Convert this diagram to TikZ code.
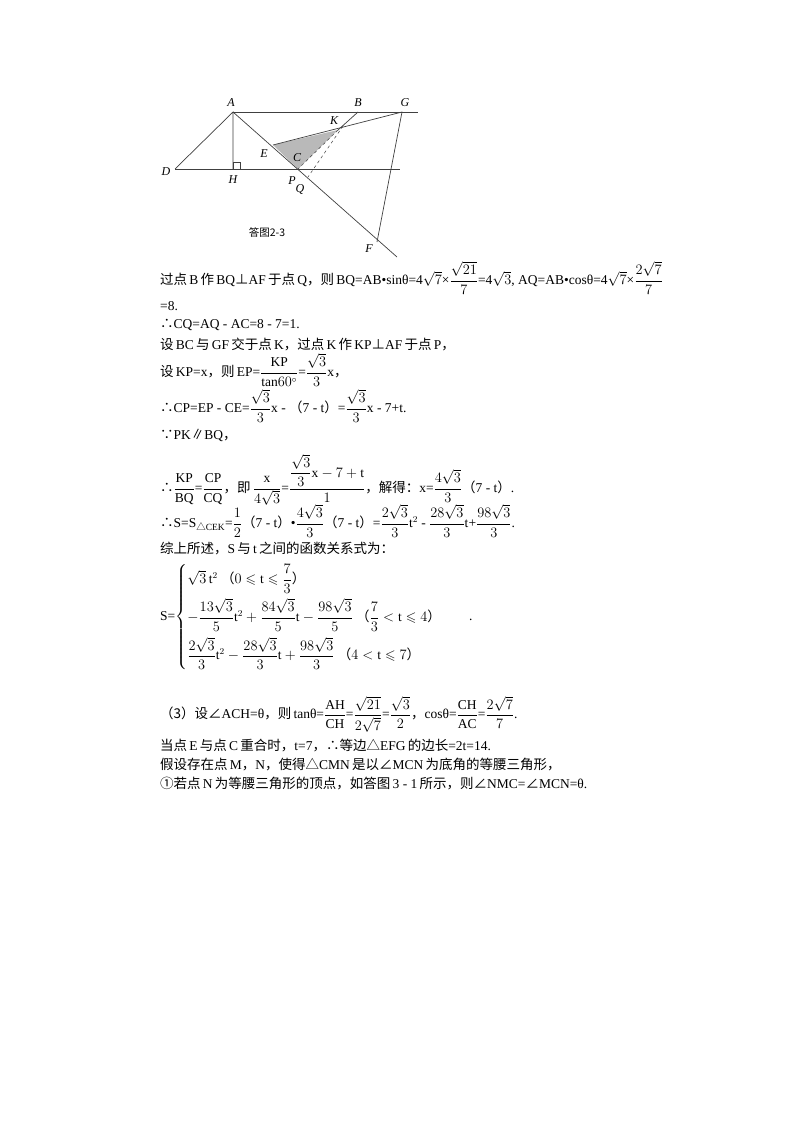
\documentclass[tikz,border=0pt]{standalone}
\usepackage{amsmath,amssymb}
\usepackage{fontspec}
\setmainfont{Liberation Serif}
\newfontfamily\cjk{Noto Sans CJK SC}
\newcommand{\zh}[1]{{\cjk #1}}
\newcommand{\ut}{\mathrm{t}}
\begin{document}
\begin{tikzpicture}[x=1pt,y=-1pt,
  lbl/.style={font=\itshape\fontsize{12}{13}\selectfont,inner sep=0pt},
  txt/.style={anchor=west,inner sep=0pt,font=\fontsize{13.5}{15}\selectfont},
  geo/.style={line width=0.7pt,draw=black!75}]
\useasboundingbox (0,0) rectangle (800,1132);
\fill[white] (0,0) rectangle (800,1132);
% geometry
\coordinate (A) at (233,112); \coordinate (B) at (358,112); \coordinate (G) at (402,112);
\coordinate (D) at (175,169); \coordinate (H) at (233,169); \coordinate (C) at (298,169);
\coordinate (E) at (273,145); \coordinate (K) at (338,130); \coordinate (F) at (377,242);
\coordinate (Q) at (308,177); \coordinate (AFend) at (397,257);
\coordinate (TR) at (418,112); \coordinate (BR) at (400,169);
\fill[gray!55] (E) -- (K) -- (C) -- cycle;
\draw[geo] (A) -- (TR);
\draw[geo] (D) -- (BR);
\draw[geo] (D) -- (A) -- (H);
\draw[geo] (A) -- (AFend);
\draw[geo] (E) -- (G) -- (F);
\draw[geo] (B) -- (K);
\draw[geo,dashed,line width=0.5pt] (K) -- (C);
\draw[geo,dashed,line width=0.5pt] (343,126) -- (Q);
\draw[geo,line width=0.5pt] (H) rectangle (240,162);
\node[lbl] (lA) at (231,103) {A};
\node[lbl] (lB) at (358,103) {B};
\node[lbl] (lG) at (405,103) {G};
\node[lbl] (lK) at (334,121) {K};
\node[lbl] (lE) at (264,154) {E};
\node[lbl] (lC) at (297,158) {C};
\node[lbl] (lD) at (166,172) {D};
\node[lbl] (lH) at (233,180) {H};
\node[lbl] (lP) at (292,181) {P};
\node[lbl] (lQ) at (300,189) {Q};
\node[lbl] (lF) at (369,249) {F};
\node[inner sep=0pt,font=\cjk\fontsize{10.5}{11}\selectfont] (cap) at (267,232) {答图2-3};
% text
\node[txt] (t1) at (160,278) {\zh{过点}\,B\,\zh{作}\,BQ\zh{⊥}AF\,\zh{于点}\,Q\zh{，则}\,BQ=AB\textbullet sinθ=4$\sqrt{7}$×$\dfrac{\sqrt{21}}{7}$=4$\sqrt{3}$, AQ=AB\textbullet cosθ=4$\sqrt{7}$×$\dfrac{2\sqrt{7}}{7}$};
\node[txt] (t2) at (160,306) {=8.};
\node[txt] (t3) at (160,325) {\zh{∴}CQ=AQ - AC=8 - 7=1.};
\node[txt] (t4) at (160,344) {\zh{设}\,BC\,\zh{与}\,GF\,\zh{交于点}\,K\zh{，过点}\,K\,\zh{作}\,KP\zh{⊥}AF\,\zh{于点}\,P\zh{，}};
\node[txt] (t5) at (160,370) {\zh{设}\,KP=x\zh{，则}\,EP=$\dfrac{\mathrm{KP}}{\mathrm{tan}60^\circ}$=$\dfrac{\sqrt{3}}{3}$x\zh{，}};
\node[txt] (t6) at (160,406) {\zh{∴}CP=EP - CE=$\dfrac{\sqrt{3}}{3}$x - \zh{（}7 - t\zh{）}=$\dfrac{\sqrt{3}}{3}$x - 7+t.};
\node[txt] (t7) at (160,435) {\zh{∵}PK\zh{∥}BQ\zh{，}};
\node[txt] (t8) at (160,480) {\zh{∴}$\dfrac{\mathrm{KP}}{\mathrm{BQ}}$=$\dfrac{\mathrm{CP}}{\mathrm{CQ}}$\zh{，即}\,$\dfrac{\mathrm{x}}{4\sqrt{3}}$=$\dfrac{\dfrac{\sqrt{3}}{3}\mathrm{x}-7+\ut}{1}$\zh{，解得：}x=$\dfrac{4\sqrt{3}}{3}$\zh{（}7 - t\zh{）}.};
\node[txt] (t9) at (160,521) {\zh{∴}S=S$_{\text{\zh{△}CEK}}$=$\dfrac{1}{2}$\zh{（}7 - t\zh{）}\textbullet$\dfrac{4\sqrt{3}}{3}$\zh{（}7 - t\zh{）}=$\dfrac{2\sqrt{3}}{3}$t$^2$ - $\dfrac{28\sqrt{3}}{3}$t+$\dfrac{98\sqrt{3}}{3}$.};
\node[txt] (t10) at (160,549) {\zh{综上所述，}S\,\zh{与}\,t\,\zh{之间的函数关系式为：}};
\node[txt] (t11) at (160,617) {S=$\begin{cases}\sqrt{3}\,\ut^2\ \text{\zh{（}}0\leqslant \ut\leqslant\dfrac{7}{3}\text{\zh{）}}\\[10pt]
-\dfrac{13\sqrt{3}}{5}\ut^2+\dfrac{84\sqrt{3}}{5}\ut-\dfrac{98\sqrt{3}}{5}\ \text{\zh{（}}\dfrac{7}{3}<\ut\leqslant 4\text{\zh{）}}\\[10pt]
\dfrac{2\sqrt{3}}{3}\ut^2-\dfrac{28\sqrt{3}}{3}\ut+\dfrac{98\sqrt{3}}{3}\ \text{\zh{（}}4<\ut\leqslant 7\text{\zh{）}}\end{cases}$\quad .};
\node[txt] (t12) at (160,714) {\zh{（3）设∠}ACH=θ\zh{，则}\,tanθ=$\dfrac{\mathrm{AH}}{\mathrm{CH}}$=$\dfrac{\sqrt{21}}{2\sqrt{7}}$=$\dfrac{\sqrt{3}}{2}$\zh{，}cosθ=$\dfrac{\mathrm{CH}}{\mathrm{AC}}$=$\dfrac{2\sqrt{7}}{7}$.};
\node[txt] (t13) at (160,746) {\zh{当点}\,E\,\zh{与点}\,C\,\zh{重合时，}t=7\zh{，∴等边△}EFG\,\zh{的边长}=2t=14.};
\node[txt] (t14) at (160,765) {\zh{假设存在点}\,M\zh{，}N\zh{，使得△}CMN\,\zh{是以∠}MCN\,\zh{为底角的等腰三角形，}};
\node[txt] (t15) at (160,784) {\zh{①若点}\,N\,\zh{为等腰三角形的顶点，如答图}\,3 - 1\,\zh{所示，则∠}NMC=\zh{∠}MCN=θ.};
\end{tikzpicture}
\end{document}
